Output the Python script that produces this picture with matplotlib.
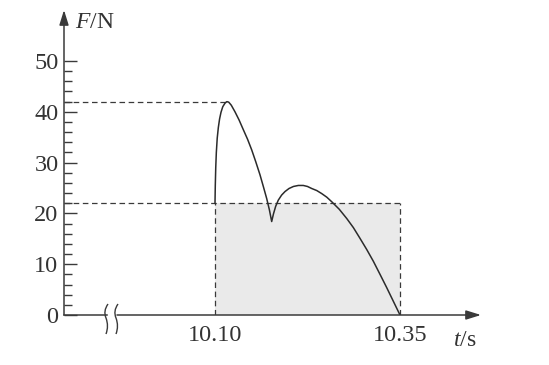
import matplotlib
matplotlib.use("Agg")
import matplotlib.pyplot as plt
from matplotlib.path import Path
from matplotlib.patches import PathPatch

plt.rcParams['font.family'] = ['Liberation Serif', 'DejaVu Serif']
plt.rcParams['mathtext.fontset'] = 'custom'
plt.rcParams['mathtext.rm'] = 'Liberation Serif'
plt.rcParams['mathtext.it'] = 'Liberation Serif:italic'
plt.rcParams['lines.scale_dashes'] = False

# ---- data ----
t_curve = [10.1000, 10.1004, 10.1010, 10.1018, 10.1030, 10.1045, 10.1062, 10.1081,
           10.1105, 10.1135, 10.1160, 10.1185, 10.1220, 10.1270, 10.1325, 10.1382,
           10.1440, 10.1496, 10.1550, 10.1608, 10.1655, 10.1699, 10.1735, 10.1766,
           10.1790, 10.1820, 10.1855, 10.1900, 10.1946, 10.2000, 10.2060, 10.2126,
           10.2193, 10.2250, 10.2307, 10.2375, 10.2442, 10.2510, 10.2577, 10.2680,
           10.2780, 10.2870, 10.2959, 10.3050, 10.3139, 10.3230, 10.3320, 10.3410, 10.35]
F_curve = [22.0, 25.5, 29.0, 32.0, 34.8, 36.9, 38.6, 39.9,
           41.0, 41.7, 42.0, 41.9, 41.3, 40.0, 38.4, 36.5,
           34.6, 32.5, 30.2, 27.6, 25.2, 22.9, 20.7, 18.4,
           19.9, 21.4, 22.6, 23.6, 24.3, 24.9, 25.3, 25.5,
           25.5, 25.3, 24.9, 24.5, 23.9, 23.2, 22.3, 20.8,
           19.0, 17.2, 15.1, 12.9, 10.6, 8.0, 5.4, 2.7, 0.0]
t_start, t_end = 10.10, 10.35
F_peak = 42
F_avg = 22
y_major = [0, 10, 20, 30, 40, 50]
y_minor = [2, 4, 6, 8, 12, 14, 16, 18, 22, 24, 26, 28, 32, 34, 36, 38, 42, 44, 46, 48]
x_ticks = [10.10, 10.35]
x_ticklabels = ['10.10', '10.35']

W, H = 549, 365
fig = plt.figure(figsize=(W / 100, H / 100), dpi=100)
ax_l, ax_b, ax_r, ax_t = 64, 315, 490, 12  # pixel edges of the axes
ax = fig.add_axes([ax_l / W, (H - ax_b) / H, (ax_r - ax_l) / W, (ax_b - ax_t) / H])
px_per_s = 740.0
px_per_N = 5.08
ax.set_xlim(t_start - (215 - ax_l) / px_per_s, t_start + (ax_r - 215) / px_per_s)
ax.set_ylim(0, (ax_b - ax_t) / px_per_N)
for s in ax.spines.values():
    s.set_visible(False)

ink = '#3a3a3a'
# shaded rectangle
ax.fill_between([t_start, t_end], 0, F_avg, color='#eaeaea', lw=0, zorder=1)
# dashed helper lines
dash = dict(color=ink, lw=0.9, dashes=(4, 2.6), zorder=2)
x0 = ax.get_xlim()[0]
ax.plot([x0, t_curve[F_curve.index(max(F_curve))]], [F_peak, F_peak], **dash)
ax.plot([x0, t_end], [F_avg, F_avg], **dash)
ax.plot([t_start, t_start], [0, F_avg], **dash)
ax.plot([t_end, t_end], [0, F_avg], **dash)
# the force curve
ax.plot(t_curve, F_curve, color='#2b2b2b', lw=1.1, zorder=3, solid_joinstyle='round')

# ticks
ax.set_yticks(y_major)
ax.set_yticks(y_minor, minor=True)
ax.tick_params(axis='y', which='major', direction='in', length=9.5, width=1.0,
               color=ink, labelsize=17.5, pad=4, labelcolor='#333333')
ax.tick_params(axis='y', which='minor', direction='in', length=5.5, width=1.0, color=ink)
ax.set_xticks(x_ticks)
ax.set_xticklabels(x_ticklabels)
ax.tick_params(axis='x', which='both', length=0, labelsize=17.5, pad=7, labelcolor='#333333')

# axes lines with arrows (axes coordinates)
def ac(px, py):
    return ((px - ax_l) / (ax_r - ax_l), (ax_b - py) / (ax_b - ax_t))

arrow = dict(arrowstyle='-|>,head_length=0.9,head_width=0.28', color=ink, lw=1.1,
             shrinkA=0, shrinkB=0)
ax.annotate('', xy=ac(64, 10), xytext=ac(64, 315), xycoords='axes fraction',
            arrowprops=arrow, annotation_clip=False)
ax.annotate('', xy=ac(481, 315), xytext=ac(117, 315), xycoords='axes fraction',
            arrowprops=arrow, annotation_clip=False)
ax.plot(*zip(ac(64, 315), ac(106.5, 315)), transform=ax.transAxes, color=ink,
        lw=1.1, clip_on=False)

# axis break marks
for bx in (107, 117):
    verts = [ac(bx + 1, 304), ac(bx - 4, 311), ac(bx - 1, 318),
             ac(bx + 2, 326), ac(bx - 1, 334)]
    codes = [Path.MOVETO, Path.CURVE3, Path.CURVE3, Path.CURVE3, Path.CURVE3]
    ax.add_patch(PathPatch(Path(verts, codes), transform=ax.transAxes, fill=False,
                           edgecolor=ink, lw=1.0, clip_on=False))

# axis labels
fig.text(75 / W, 1 - 23 / H, r'$F\mathrm{/N}$', fontsize=17, va='center', ha='left',
         color='#333333')
fig.text(453 / W, 1 - 340 / H, r'$t\mathrm{/s}$', fontsize=17, va='center', ha='left',
         color='#333333')

fig.savefig('out.png', dpi=100, facecolor='white')
